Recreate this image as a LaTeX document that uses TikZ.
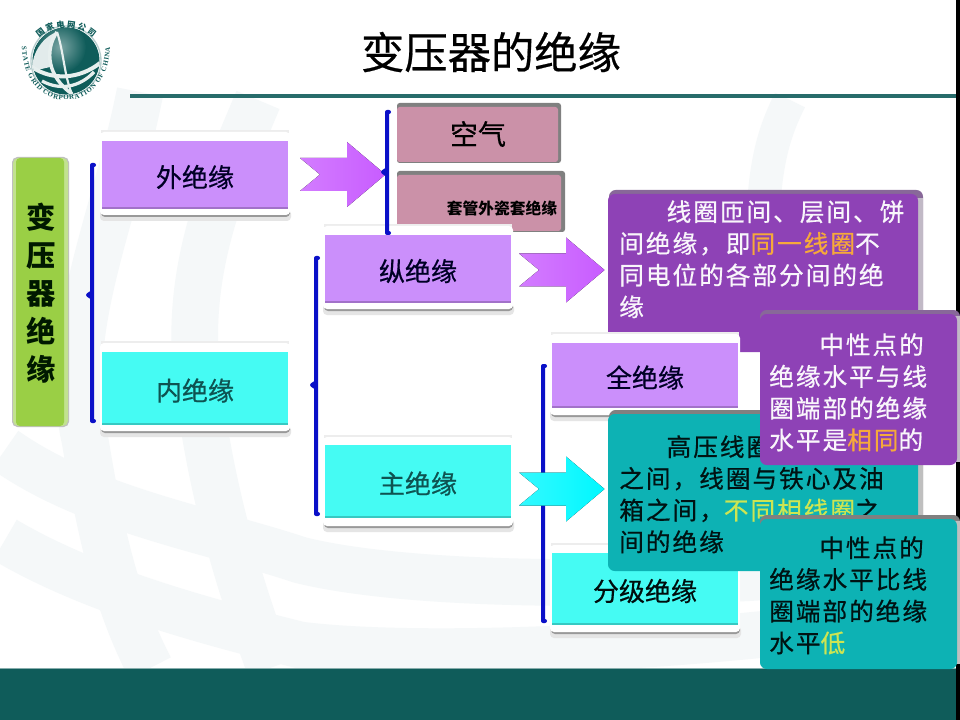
\documentclass[tikz,border=0pt]{standalone}
\usepackage{fontspec}
\usetikzlibrary{decorations.text}
\setmainfont{Liberation Serif}
\newfontfamily\cjk{Noto Sans CJK SC}
\newfontfamily\cjkm[FakeBold=0.5]{Noto Sans CJK SC}
\newfontfamily\cjkl[LetterSpace=8,FakeBold=0.6]{Noto Sans CJK SC}
\definecolor{teald}{HTML}{0F5C5A}
\definecolor{lightpur}{HTML}{CB8FFB}
\definecolor{lightcy}{HTML}{45FBF3}
\definecolor{darkpur}{HTML}{8E42B6}
\definecolor{darkteal}{HTML}{0DB2B4}
\definecolor{rosebox}{HTML}{CB91A8}
\definecolor{wm}{HTML}{F5F8F9}
\definecolor{bracec}{HTML}{0A10C8}
\definecolor{orangeT}{HTML}{F6A93A}
\definecolor{limeT}{HTML}{CDE552}
\definecolor{rootgreen}{HTML}{9ACF45}
\definecolor{arrP}{HTML}{C85CFF}
\definecolor{arrC}{HTML}{00F8FF}
\tikzset{
  tiertext/.style={font=\cjkm\fontsize{19.5}{22}\selectfont,inner sep=0pt},
  para/.style={font=\cjkl\fontsize{18.5}{23.8}\selectfont,inner sep=0pt,align=left,anchor=north west},
  wmband/.style={draw=wm,line width=#1,line cap=butt},
  bracel/.style={draw=bracec,line width=3pt,line cap=round,line join=round},
}
% name, xl, yt, xr, yb, frametop, framebottom, colour, text colour; text in \tiertextbody
\newcommand\tierbox[9]{%
  \fill[black!7] (#2-1,#6-2) rectangle (#4+1,#6+4);
  \fill[black!10,rounded corners=3] (#2-2,#5+1) rectangle (#4+3,#7+6);
  \fill[black!40,rounded corners=3] (#2-1,#5+1) rectangle (#4+2,#7+2);
  \fill[white,rounded corners=3] (#2-2,#6) rectangle (#4+2,#7);
  \fill[#8] (#2,#3) rectangle (#4,#5);
  \fill[#8!80!black] (#2,#5-2) rectangle (#4,#5);
  \node[tiertext,text=#9] (#1) at ({(#2+#4)/2},{(#3+#5)/2+2}) {\tiertextbody};
}
\newcommand\tiertextbody{}
\newcommand\notched[2]{%
  \fill[left color=#2!80!white,right color=#2] (#1)++(0,-16.5) -- ++(47,0) -- ++(0,-16) -- ++(38.5,32.5) -- ++(-38.5,32.5) -- ++(0,-16) -- ++(-47,0) -- ++(20,-16.5) -- cycle;
}
\newcommand\bracepath[3]{%
  \draw[bracel] ([xshift=1.5]#1) -- (#1) -- ([yshift=-2]#2) -- ([xshift=-3]#2) -- ([yshift=2]#2) -- (#3) -- ([xshift=1.5]#3);
}
\begin{document}
\begin{tikzpicture}[x=0.75pt,y=-0.75pt]
\useasboundingbox (0,0) rectangle (960,720);
\fill[white] (0,0) rectangle (960,720);
% watermark
\draw[wmband=35] (140,92) .. controls (115,220) and (60,330) .. (85,440) .. controls (100,530) and (115,600) .. (150,668);
\draw[wmband=35] (258,100) .. controls (220,190) and (180,280) .. (200,400) .. controls (215,510) and (245,600) .. (270,668);
\draw[wmband=35] (5,450) .. controls (90,510) and (210,530) .. (300,560) .. controls (420,590) and (700,590) .. (956,560);
\draw[wmband=35] (5,540) .. controls (90,590) and (200,620) .. (300,645) .. controls (420,660) and (700,650) .. (955,610);
\draw[wmband=25] (790,100) .. controls (765,150) and (760,190) .. (762,330);
% right edge
\fill[black] (956,0) rectangle (960,720);
% bottom band
\fill[teald] (0,669) rectangle (956,720);
\draw[teald!50!white,line width=0.7pt] (0,668.5) -- (956,668.5);
% title
\node[font=\cjkm\fontsize{32.5}{36}\selectfont,inner sep=0pt] (title) at (491,52) {变压器的绝缘};
\coordinate (ruleA) at (130,96.5);
\coordinate (ruleB) at (956,96.5);
\draw[teald!90!white,line width=3pt] (ruleA) -- (ruleB);
% logo
\begin{scope}[shift={(66,61)},x=0.75pt,y=0.75pt]
  \begin{scope}
    \clip (0,0) circle (33.5);
    \fill[teald] (-34,-34) rectangle (34,34);
    \shade[inner color=teald!55!white,outer color=teald] (-6,14) circle (26);
    \fill[teald!12!white] (-9,29) .. controls (-24,24) and (-36,5) .. (-33,-10) -- (-16,-6) .. controls (-18,8) and (-16,20) .. (-9,29) -- cycle;
    \draw[teald!10!white,line width=3pt] (-34,-6) .. controls (-14,-20) and (14,-18) .. (34,-2);
    \draw[teald!10!white,line width=2.4pt] (-24,-20) .. controls (-6,-30) and (14,-26) .. (28,-11);
    \draw[teald!10!white,line width=2.6pt] (-9,29) .. controls (-22,10) and (-18,-16) .. (6,-33);
    \draw[teald!10!white,line width=1.6pt] (-9,29) .. controls (-2,8) and (-2,-14) .. (6,-33);
  \end{scope}
  \draw[teald!30!white,line width=1pt] (0,0) circle (35);
  \path[decorate,decoration={text along path,text align={fit to path},
     text={|\cjk\bfseries\fontsize{6.2}{7}\selectfont\color{teald}|国家电网公司}}]
     (-27,23) .. controls (-12,37) and (12,37) .. (27,23);
  \path[decorate,decoration={text along path,text align={fit to path},
     text={|\rmfamily\bfseries\fontsize{5.2}{6}\selectfont\color{teald}|STATE GRID CORPORATION OF CHINA}}]
     (-44,14) .. controls (-43,-20) and (-24,-39) .. (0,-39) .. controls (24,-39) and (43,-20) .. (44,14);
\end{scope}
% green root
\fill[black!25,rounded corners=4] (12,157) rectangle (69,427);
\fill[rootgreen!60!white,rounded corners=4] (13,158) rectangle (68,426);
\fill[rootgreen,rounded corners=3] (16,158) rectangle (64,426);
\node[font=\cjk\bfseries\fontsize{22}{28.6}\selectfont,inner sep=0pt,align=center,text=black!90!green] (root) at (41,293) {变\\压\\器\\绝\\缘};
% arrows and brace anchors
\coordinate (a1) at (300,174.5);
\coordinate (a2) at (519,270);
\coordinate (a3) at (519,489);
\notched{a1}{arrP}
\coordinate (b1t) at (92,165); \coordinate (b1m) at (92,295); \coordinate (b1b) at (92,421);
\coordinate (b2t) at (316,258); \coordinate (b2m) at (316,385); \coordinate (b2b) at (316,514);
\coordinate (b3t) at (543,366); \coordinate (b3m) at (543,494); \coordinate (b3b) at (543,621);
\coordinate (b4t) at (387,112); \coordinate (b4m) at (387,172); \coordinate (b4b) at (387,233);
\bracepath{b1t}{b1m}{b1b}
\bracepath{b2t}{b2m}{b2b}
\bracepath{b3t}{b3m}{b3b}
% rose boxes
\fill[black!50,rounded corners=2] (397,103) rectangle (561,163);
\fill[black!50,rounded corners=2] (397,171) rectangle (565,232);
\fill[rosebox,rounded corners=2] (397,107) rectangle (558,162);
\fill[rosebox,rounded corners=2] (397,175) rectangle (561,231);
\node[font=\cjkm\fontsize{21}{24}\selectfont,inner sep=0pt] (air) at (478,134) {空气};
\node[font=\cjk\bfseries\fontsize{11.8}{14}\selectfont,inner sep=0pt] (bush) at (502,208) {套管外瓷套绝缘};
\notched{a2}{arrP}
% tier 1
\renewcommand\tiertextbody{外绝缘}
\tierbox{outer}{102}{141}{288}{209}{132}{215}{lightpur}{black!85!blue}
\renewcommand\tiertextbody{内绝缘}
\tierbox{inner}{102}{352}{288}{425}{343}{431}{lightcy}{teald!90!black}
\renewcommand\tiertextbody{纵绝缘}
\tierbox{longi}{325}{235}{511}{303}{226}{309}{lightpur}{black!85!blue}
\renewcommand\tiertextbody{主绝缘}
\tierbox{mainins}{325}{445}{511}{518}{437}{526}{lightcy}{teald!90!black}
\bracepath{b4t}{b4m}{b4b}
% big purple
\fill[darkpur!60!black!70!white,rounded corners=5] (609,190) rectangle (923,345);
\fill[darkpur!35!black!30!white] (917,198) rectangle (923,352);
\fill[darkpur,rounded corners=5] (608,194) -- (918,194) -- (918,352) -- (608,352) -- cycle;
\node[para,text=white!95!darkpur] (p1) at (619,200) {\hspace*{35.5pt}线圈匝间、层间、饼\\间绝缘，即{\color{orangeT}同一线圈}不\\同电位的各部分间的绝\\缘};
\renewcommand\tiertextbody{全绝缘}
\tierbox{full}{552}{343}{738}{408}{334}{415}{lightpur}{black!85!blue}
\renewcommand\tiertextbody{分级绝缘}
\tierbox{grad}{552}{553}{738}{625}{545}{632}{lightcy}{black!90!teal}
% third arrow over the brace
\notched{a3}{arrC}
% big teal
\fill[black!50,rounded corners=5] (609,410) rectangle (923,560);
\fill[black!25] (917,418) rectangle (923,571);
\fill[darkteal,rounded corners=5] (608,414) rectangle (918,571);
\node[para,text=black!85!teal] (p2) at (619,435) {\hspace*{35.5pt}高压线圈\\之间，线圈与铁心及油\\箱之间，{\color{limeT}不同相线圈}之\\间的绝缘};
% small purple
\fill[darkpur!60!black!70!white,rounded corners=5] (760,310) rectangle (960,460);
\fill[darkpur!35!black!30!white] (955,316) rectangle (960,462);
\fill[darkpur,rounded corners=5] (760,314) rectangle (957,465);
\node[para,text=white!95!darkpur] (p3) at (769,333) {\hspace*{37.5pt}中性点的\\绝缘水平与线\\圈端部的绝缘\\水平是{\color{orangeT}相同}的};
% small teal
\fill[black!50,rounded corners=5] (760,515) rectangle (960,660);
\fill[black!25] (955,521) rectangle (960,664);
\fill[darkteal,rounded corners=5] (760,519) rectangle (957,669);
\node[para,text=black!85!teal] (p4) at (769,536) {\hspace*{37.5pt}中性点的\\绝缘水平比线\\圈端部的绝缘\\水平{\color{limeT}低}};
\end{tikzpicture}
\end{document}
